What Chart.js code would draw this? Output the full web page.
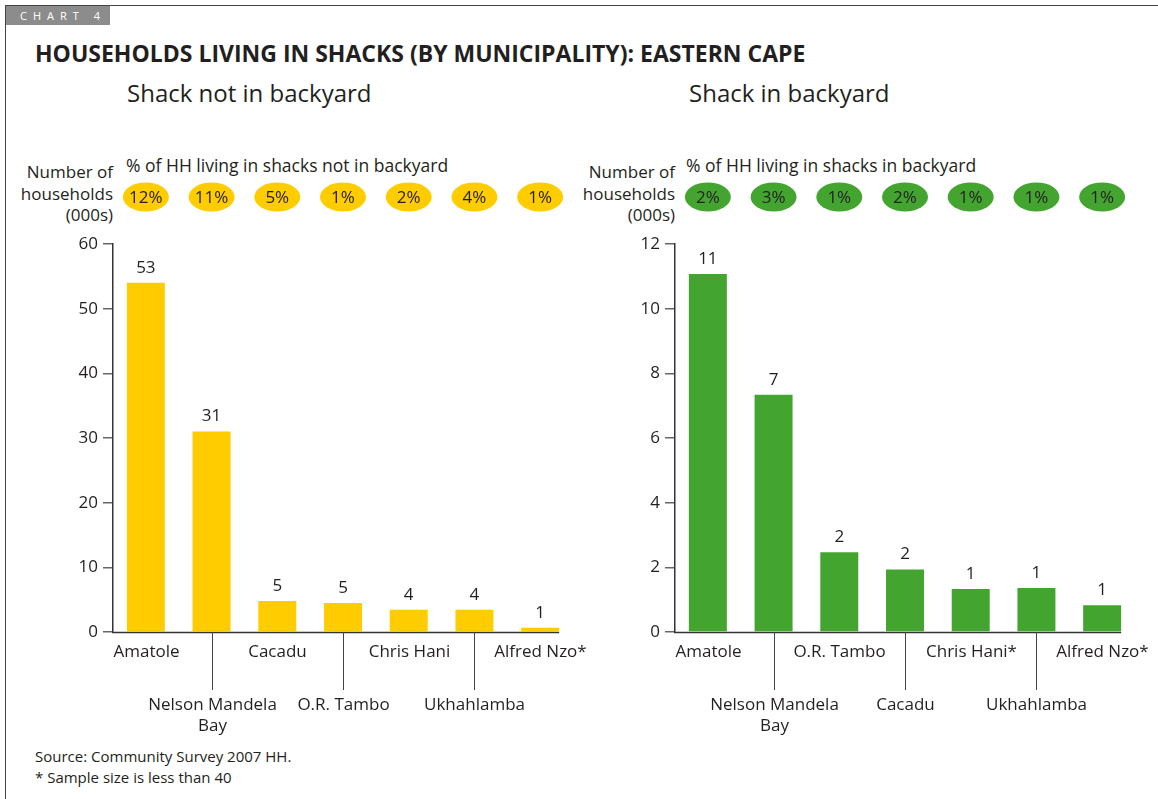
<!DOCTYPE html>
<html>
<head>
<meta charset="utf-8">
<script src="https://cdn.jsdelivr.net/npm/chart.js@4.4.1/dist/chart.umd.min.js"></script>
<style>
  body { margin: 0; background: #fff; font-family: "Open Sans", sans-serif; color: #231f20; }
  #page { position: relative; width: 1158px; height: 799px; overflow: hidden; }
  .frame-top { position: absolute; left: 5px; top: 5px; width: 1153px; height: 1px; background: #444; }
  .frame-left { position: absolute; left: 5px; top: 5px; width: 1px; height: 794px; background: #444; }
  .tag { position: absolute; left: 6px; top: 6px; width: 104px; height: 19px; background: #8c8c8c; color: #fff;
         font-size: 11px; letter-spacing: 6px; line-height: 19px; padding-left: 14px; box-sizing: border-box; }
  .title { position: absolute; left: 35px; top: 37px; font-size: 23px; font-weight: bold; white-space: nowrap; }
  .sub { position: absolute; top: 76px; font-size: 24px; white-space: nowrap; }
  .pct-note { position: absolute; top: 153px; font-size: 17.5px; white-space: nowrap; }
  .ytitle { position: absolute; top: 161px; width: 110px; text-align: right; font-size: 17px; line-height: 21.5px; }
  .note { position: absolute; left: 35px; font-size: 15px; white-space: nowrap; }
  canvas { position: absolute; }
</style>
</head>
<body>
<div id="page">
  <div class="frame-top"></div>
  <div class="frame-left"></div>
  <div class="tag">CHART 4</div>
  <div class="title">HOUSEHOLDS LIVING IN SHACKS (BY MUNICIPALITY): EASTERN CAPE</div>
  <div class="sub" style="left:127px">Shack not in backyard</div>
  <div class="sub" style="left:689px">Shack in backyard</div>
  <div class="pct-note" style="left:126px">% of HH living in shacks not in backyard</div>
  <div class="pct-note" style="left:686px">% of HH living in shacks in backyard</div>
  <div class="ytitle" style="left:3px">Number of<br>households<br>(000s)</div>
  <div class="ytitle" style="left:565px">Number of<br>households<br>(000s)</div>
  <div class="note" style="top:746px">Source: Community Survey 2007 HH.</div>
  <div class="note" style="top:767px">* Sample size is less than 40</div>
  <canvas id="notBackyard" style="left:0px;top:150px" width="600" height="600"></canvas>
  <canvas id="inBackyard" style="left:562px;top:150px" width="596" height="600"></canvas>
</div>
<script>
// shack not in backyard
const leftLabels = ['Amatole', ['Nelson Mandela', 'Bay'], 'Cacadu', 'O.R. Tambo', 'Chris Hani', 'Ukhahlamba', 'Alfred Nzo*'];
const leftValues = [54.0, 31.0, 4.8, 4.5, 3.45, 3.45, 0.66];
const leftValueLabels = ['53', '31', '5', '5', '4', '4', '1'];
const leftPct = ['12%', '11%', '5%', '1%', '2%', '4%', '1%'];
const leftTicks = [0, 10, 20, 30, 40, 50, 60];

// shack in backyard
const rightLabels = ['Amatole', ['Nelson Mandela', 'Bay'], 'O.R. Tambo', 'Cacadu', 'Chris Hani*', 'Ukhahlamba', 'Alfred Nzo*'];
const rightValues = [11.07, 7.34, 2.47, 1.93, 1.33, 1.36, 0.83];
const rightValueLabels = ['11', '7', '2', '2', '1', '1', '1'];
const rightPct = ['2%', '3%', '1%', '2%', '1%', '1%', '1%'];
const rightTicks = [0, 2, 4, 6, 8, 10, 12];

const TEXT = '#231f20';
const FONT = '"Open Sans", sans-serif';

// ovals, value labels, staggered category labels and x axis line
const decorPlugin = {
  id: 'decor',
  afterDatasetsDraw(chart, args, opts) {
    const { ctx, chartArea } = chart;
    const xs = chart.scales.x;
    const bars = chart.getDatasetMeta(0).data;
    ctx.save();
    ctx.fillStyle = TEXT;
    ctx.font = '17px ' + FONT;
    ctx.textAlign = 'center';
    ctx.textBaseline = 'middle';

    bars.forEach((bar, i) => {
      ctx.fillStyle = TEXT;
      ctx.fillText(opts.valueLabels[i], bar.x, bar.y - 15);
    });

    // percentage ovals
    opts.pct.forEach((p, i) => {
      const x = xs.getPixelForValue(i);
      ctx.fillStyle = opts.ovalColor;
      ctx.beginPath();
      ctx.ellipse(x, 47, 23, 14.5, 0, 0, Math.PI * 2);
      ctx.fill();
      ctx.fillStyle = TEXT;
      ctx.fillText(p, x, 48);
    });

    // x axis line up to the last bar
    const last = bars[bars.length - 1];
    ctx.strokeStyle = '#333';
    ctx.lineWidth = 1.5;
    ctx.beginPath();
    ctx.moveTo(chartArea.left - 1, chartArea.bottom + 0.5);
    ctx.lineTo(last.x + last.width / 2, chartArea.bottom + 0.5);
    ctx.stroke();

    // category labels, every second one dropped with a leader line
    ctx.lineWidth = 1;
    ctx.strokeStyle = '#444';
    opts.labels.forEach((lab, i) => {
      const x = Math.round(xs.getPixelForValue(i)) + 0.5;
      const lines = Array.isArray(lab) ? lab : [lab];
      let y = chartArea.bottom + 20;
      if (i % 2 === 1) {
        ctx.beginPath();
        ctx.moveTo(x, chartArea.bottom);
        ctx.lineTo(x, chartArea.bottom + 58);
        ctx.stroke();
        y = chartArea.bottom + 73;
      }
      ctx.fillStyle = TEXT;
      lines.forEach((t, k) => ctx.fillText(t, x, y + k * 21));
    });
    ctx.restore();
  }
};

const buildChart = (id, labels, values, ticks, color, valueLabels, pct, ovalColor, padRight) => {
  const ctx = document.getElementById(id);
  const max = ticks[ticks.length - 1];
  return new Chart(ctx, {
    type: 'bar',
    data: {
      labels,
      datasets: [{
        data: values,
        backgroundColor: color,
        categoryPercentage: 1,
        barPercentage: 0.578
      }]
    },
    options: {
      responsive: false,
      animation: false,
      layout: { padding: { top: 94, bottom: 118, right: padRight, left: 0 } },
      plugins: {
        legend: { display: false },
        tooltip: { enabled: false },
        decor: { labels, valueLabels, pct, ovalColor }
      },
      scales: {
        x: { display: false },
        y: {
          min: 0,
          max,
          afterFit: (scale) => { scale.width = 113; },
          afterBuildTicks: (scale) => { scale.ticks = ticks.map(v => ({ value: v })); },
          border: { display: true, color: '#333', width: 1.5 },
          grid: { drawOnChartArea: false, drawTicks: true, tickLength: 10, color: '#666', lineWidth: 1.5 },
          ticks: { color: TEXT, padding: 5, font: { family: FONT, size: 17 } }
        }
      }
    },
    plugins: [decorPlugin]
  });
};

buildChart('notBackyard', leftLabels, leftValues, leftTicks, '#ffcc00', leftValueLabels, leftPct, '#ffcc00', 27);
buildChart('inBackyard', rightLabels, rightValues, rightTicks, '#43a52f', rightValueLabels, rightPct, '#43a52f', 23);
</script>
</body>
</html>
